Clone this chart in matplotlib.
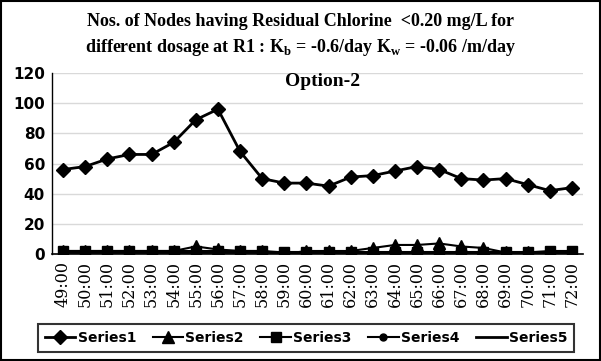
import matplotlib
matplotlib.use("Agg")
import matplotlib.pyplot as plt
from matplotlib.patches import Rectangle

plt.rcParams["mathtext.fontset"] = "custom"
plt.rcParams["mathtext.rm"] = "Liberation Serif:bold"
plt.rcParams["mathtext.bf"] = "Liberation Serif:bold"

times = ["49:00","50:00","51:00","52:00","53:00","54:00","55:00","56:00","57:00","58:00",
         "59:00","60:00","61:00","62:00","63:00","64:00","65:00","66:00","67:00","68:00",
         "69:00","70:00","71:00","72:00"]
series1 = [56, 58, 63, 66, 66, 74, 89, 96, 68, 50, 47, 47, 45, 51, 52, 55, 58, 56, 50, 49, 50, 46, 42, 44]
series2 = [2, 2, 2, 2, 2, 2, 5, 3, 2, 2, 0, 2, 2, 2, 4, 6, 6, 7, 5, 4, 1, 1, 1, 1]
series3 = [2, 2, 2, 2, 2, 2, 2, 2, 2, 2, 1, 1, 1, 1, 1, 1, 1, 1, 1, 1, 1, 1, 2, 2]
series4 = [1, 1, 1, 1, 1, 1, 1, 1, 1, 1, 1, 1, 1, 1, 1, 1, 1, 1, 1, 1, 1, 1, 1, 1]
series5 = [0]*24
yticks = [0, 20, 40, 60, 80, 100, 120]

fig = plt.figure(figsize=(6.01, 3.61), dpi=100)
ax = fig.add_axes([52/601, 1-254/361, (583-52)/601, (254-73)/361])

x = list(range(len(times)))
ax.plot(x, series1, color="black", lw=2, marker="D", ms=7, label="Series1", zorder=5)
ax.plot(x, series2, color="black", lw=1.5, marker="^", ms=8, label="Series2", zorder=4)
ax.plot(x, series3, color="black", lw=1.5, marker="s", ms=7, label="Series3", zorder=4)
ax.plot(x, series4, color="black", lw=1.5, marker="o", ms=5, label="Series4", zorder=4)
ax.plot(x, series5, color="black", lw=2, label="Series5", zorder=4)

ax.set_xlim(-0.5, len(times) - 0.5)
ax.set_ylim(0, 120)
ax.set_yticks(yticks)
ax.set_yticklabels([str(v) for v in yticks], fontsize=11, fontweight="bold", family="DejaVu Sans")
ax.set_xticks(x)
ax.set_xticklabels(times, rotation=90, fontsize=11.5, family="DejaVu Serif")
ax.tick_params(axis="both", length=0, pad=5)
ax.yaxis.grid(True, color="#d9d9d9", lw=1)
ax.set_axisbelow(True)
for s in ["top", "right"]:
    ax.spines[s].set_visible(False)
ax.spines["left"].set_color("black")
ax.spines["left"].set_linewidth(1)
ax.spines["bottom"].set_color("black")
ax.spines["bottom"].set_linewidth(1.2)

ax.text(0.51, 0.955, "Option-2", transform=ax.transAxes, ha="center", va="center",
        fontsize=14, fontweight="bold", family="Liberation Serif")

fig.text(0.5, 1-22/361, "Nos. of Nodes having Residual Chlorine  <0.20 mg/L for",
         ha="center", va="center", fontsize=13, fontweight="bold", family="Liberation Serif")
fig.text(0.5, 1-47/361, r"different dosage at R1 : K$_\mathbf{b}$ = -0.6/day K$_\mathbf{w}$ = -0.06 /m/day",
         ha="center", va="center", fontsize=13, fontweight="bold", family="Liberation Serif")

leg = fig.legend(loc="center", bbox_to_anchor=(306/601, 1-338/361), ncol=5, frameon=True,
                 fancybox=False, edgecolor="black", prop={"weight": "bold", "size": 10},
                 handlelength=2.2, columnspacing=1.2, handletextpad=0.15, borderpad=0.5)
leg.get_frame().set_linewidth(1.5)

fig.patches.append(Rectangle((0.002, 0.003), 0.996, 0.994, transform=fig.transFigure,
                             fill=False, edgecolor="black", lw=1.5))

fig.savefig("out.png", dpi=100)
